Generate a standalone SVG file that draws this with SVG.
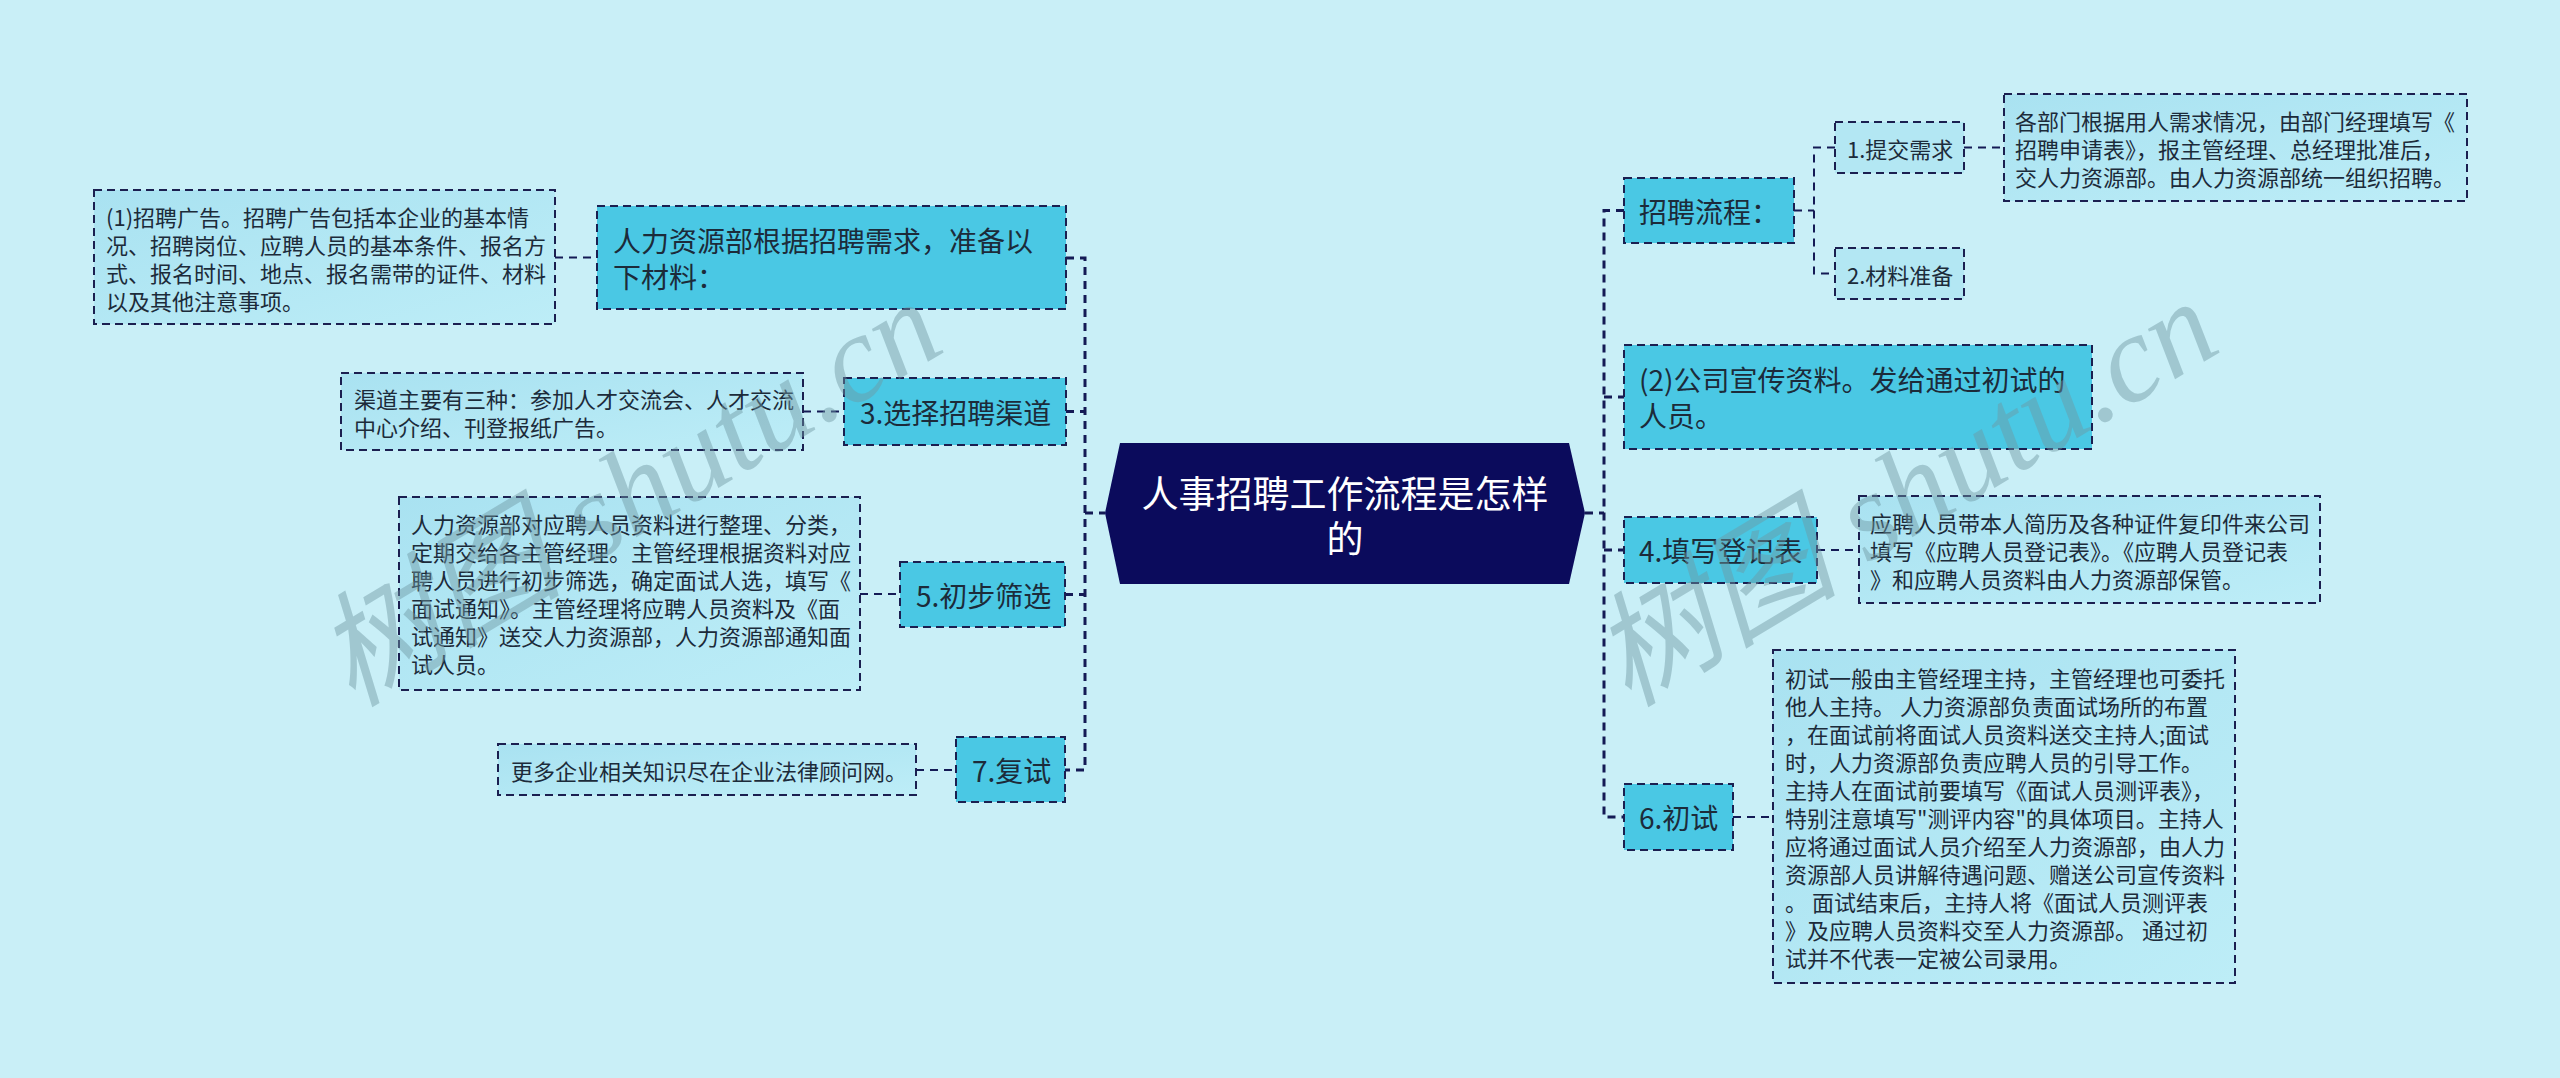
<svg xmlns="http://www.w3.org/2000/svg" width="2560" height="1078" viewBox="0 0 2560 1078">
<style>
.main rect{fill:#4ac8e4;stroke:#1b1f50;stroke-width:2;stroke-dasharray:8 5}
.leaf rect{fill:url(#lg);stroke:#1b1f50;stroke-width:2;stroke-dasharray:8 5}
.sub rect{fill:#b3e7f3;stroke:#1b1f50;stroke-width:2;stroke-dasharray:8 5}
text{font-family:"Noto Sans CJK SC","Liberation Sans",sans-serif;fill:#1c2b3a;dominant-baseline:central}
.main text{font-size:28px}
.leaf text{font-size:22px}
.sub text{font-size:22px}
.root text{font-size:37px;fill:#ffffff;text-anchor:middle}
.trunk{fill:none;stroke:#141a55;stroke-width:3;stroke-dasharray:8 6}
.thin{fill:none;stroke:#141a55;stroke-width:2;stroke-dasharray:8 6}
.wm{font-family:"Liberation Serif","Noto Sans CJK SC",serif;font-style:italic;font-size:124px;fill:#6f98a3;opacity:0.45;dominant-baseline:auto}
</style>
<defs>
<linearGradient id="lg" x1="0" y1="0" x2="1" y2="1">
<stop offset="0" stop-color="#a9e2f1"/>
<stop offset="1" stop-color="#bdedf7"/>
</linearGradient>
</defs>
<rect x="0" y="0" width="2560" height="1078" fill="#c9eff7"/>

<g id="connectors">
<path class="trunk" d="M1066 258 H1085 V770 H1065"/>
<path class="trunk" d="M1066 411.5 H1085 M1065 594.5 H1085 M1085 513 H1105"/>
<path class="trunk" d="M1624 210.5 H1604 V817 H1624"/>
<path class="trunk" d="M1604 397 H1624 M1604 550 H1624 M1585 513 H1604"/>
<path class="thin" d="M555 257.5 H597 M803 411.5 H844 M860 594 H900 M916 770 H956"/>
<path class="thin" d="M1794 210.5 H1814 M1835 147.5 H1814 V273.5 H1835 M1964 147.5 H2004"/>
<path class="thin" d="M1817 550 H1859 M1733 817 H1773"/>
</g>

<g id="root" class="root">
<polygon points="1120,443 1569,443 1585,513 1569,584 1120,584 1105,513" fill="#0b0b5c"/>
<text x="1345" y="492">人事招聘工作流程是怎样</text>
<text x="1345" y="537">的</text>
</g>

<g id="n-materials" class="main">
<rect x="597" y="206" width="469" height="103"/>
<text x="613" y="239.5">人力资源部根据招聘需求，准备以</text>
<text x="613" y="275.5">下材料：</text>
</g>
<g id="l-ad" class="leaf">
<rect x="94" y="190" width="461" height="134"/>
<text x="106" y="216">(1)招聘广告。招聘广告包括本企业的基本情</text>
<text x="106" y="244">况、招聘岗位、应聘人员的基本条件、报名方</text>
<text x="106" y="272">式、报名时间、地点、报名需带的证件、材料</text>
<text x="106" y="300">以及其他注意事项。</text>
</g>

<g id="n-channel" class="main">
<rect x="844" y="378" width="222" height="67"/>
<text x="860" y="411.5">3.选择招聘渠道</text>
</g>
<g id="l-channel" class="leaf">
<rect x="341" y="373" width="462" height="77"/>
<text x="354" y="397.5">渠道主要有三种：参加人才交流会、人才交流</text>
<text x="354" y="425.5">中心介绍、刊登报纸广告。</text>
</g>

<g id="n-screen" class="main">
<rect x="900" y="562" width="165" height="65"/>
<text x="916" y="594.5">5.初步筛选</text>
</g>
<g id="l-screen" class="leaf">
<rect x="399" y="497" width="461" height="193"/>
<text x="411" y="523">人力资源部对应聘人员资料进行整理、分类，</text>
<text x="411" y="551">定期交给各主管经理。主管经理根据资料对应</text>
<text x="411" y="579">聘人员进行初步筛选，确定面试人选，填写《</text>
<text x="411" y="607">面试通知》。主管经理将应聘人员资料及《面</text>
<text x="411" y="635">试通知》送交人力资源部，人力资源部通知面</text>
<text x="411" y="663">试人员。</text>
</g>

<g id="n-retest" class="main">
<rect x="956" y="737" width="109" height="65"/>
<text x="972" y="769.5">7.复试</text>
</g>
<g id="l-retest" class="leaf">
<rect x="498" y="744" width="418" height="51"/>
<text x="511" y="769.5">更多企业相关知识尽在企业法律顾问网。</text>
</g>

<g id="n-process" class="main">
<rect x="1624" y="178" width="170" height="65"/>
<text x="1639" y="210.5">招聘流程：</text>
</g>
<g id="s-submit" class="sub">
<rect x="1835" y="122" width="129" height="51"/>
<text x="1847" y="147.5">1.提交需求</text>
</g>
<g id="s-prepare" class="sub">
<rect x="1835" y="248" width="129" height="51"/>
<text x="1847" y="273.5">2.材料准备</text>
</g>
<g id="l-submit" class="leaf">
<rect x="2004" y="94" width="463" height="107"/>
<text x="2015" y="119.5">各部门根据用人需求情况，由部门经理填写《</text>
<text x="2015" y="147.5">招聘申请表》，报主管经理、总经理批准后，</text>
<text x="2015" y="175.5">交人力资源部。由人力资源部统一组织招聘。</text>
</g>

<g id="n-promo" class="main">
<rect x="1624" y="345" width="468" height="104"/>
<text x="1639" y="379">(2)公司宣传资料。发给通过初试的</text>
<text x="1639" y="415">人员。</text>
</g>

<g id="n-register" class="main">
<rect x="1624" y="517" width="193" height="66"/>
<text x="1639" y="550">4.填写登记表</text>
</g>
<g id="l-register" class="leaf">
<rect x="1859" y="496" width="461" height="107"/>
<text x="1870" y="521.5">应聘人员带本人简历及各种证件复印件来公司</text>
<text x="1870" y="549.5">填写《应聘人员登记表》。《应聘人员登记表</text>
<text x="1870" y="577.5">》和应聘人员资料由人力资源部保管。</text>
</g>

<g id="n-first" class="main">
<rect x="1624" y="784" width="109" height="66"/>
<text x="1639" y="817">6.初试</text>
</g>
<g id="l-first" class="leaf">
<rect x="1773" y="650" width="462" height="333"/>
<text x="1785" y="676.5">初试一般由主管经理主持，主管经理也可委托</text>
<text x="1785" y="704.5">他人主持。 人力资源部负责面试场所的布置</text>
<text x="1785" y="732.5">，在面试前将面试人员资料送交主持人;面试</text>
<text x="1785" y="760.5">时，人力资源部负责应聘人员的引导工作。</text>
<text x="1785" y="788.5">主持人在面试前要填写《面试人员测评表》，</text>
<text x="1785" y="816.5">特别注意填写"测评内容"的具体项目。主持人</text>
<text x="1785" y="844.5">应将通过面试人员介绍至人力资源部，由人力</text>
<text x="1785" y="872.5">资源部人员讲解待遇问题、赠送公司宣传资料</text>
<text x="1785" y="900.5">。 面试结束后，主持人将《面试人员测评表</text>
<text x="1785" y="928.5">》及应聘人员资料交至人力资源部。 通过初</text>
<text x="1785" y="956.5">试并不代表一定被公司录用。</text>
</g>

<g id="watermarks">
<text class="wm" transform="translate(352,708) rotate(-31)">树图 shutu.cn</text>
<text class="wm" transform="translate(1628,708) rotate(-31)">树图 shutu.cn</text>
</g>
</svg>
